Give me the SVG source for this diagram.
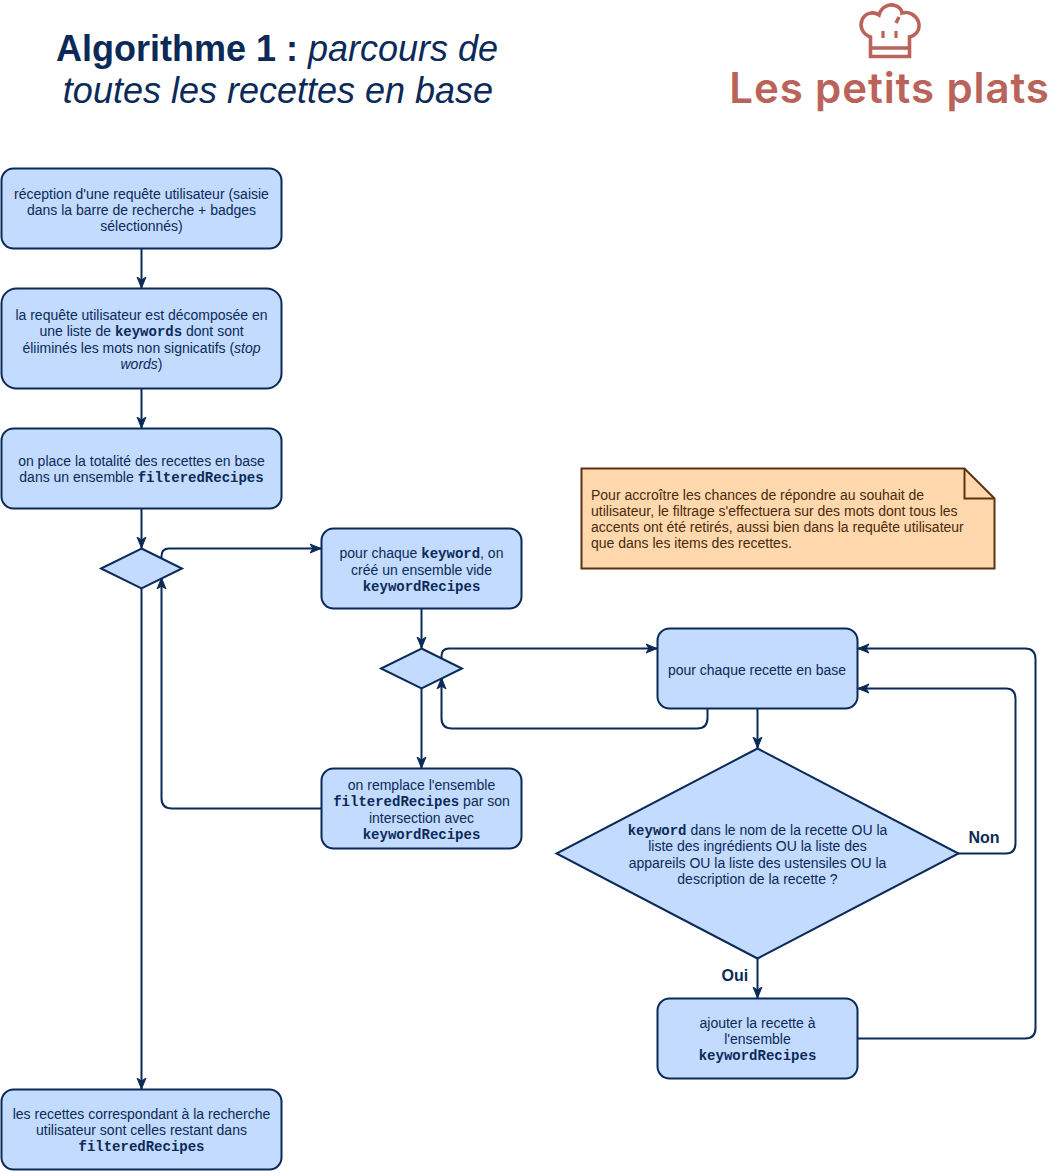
<svg xmlns="http://www.w3.org/2000/svg" width="1052" height="1171" viewBox="0 0 1052 1171">
<style>
.n{fill:#c2dbff;stroke:#0b2a58;stroke-width:2}
.t{font-family:"Liberation Sans",Arial,sans-serif;font-size:14px;fill:#0b2a58;text-anchor:middle;transform:translateY(.6px)}
.m{font-family:"Liberation Mono","Courier New",monospace;font-weight:bold}
.c{fill:none;stroke:#0b2a58;stroke-width:2}
.l{font-family:"Liberation Sans",Arial,sans-serif;font-size:16px;font-weight:bold;fill:#0b2a58}
.h{font-family:"Liberation Sans",Arial,sans-serif;font-size:36px;fill:#0b2a58;text-anchor:middle}
</style>
<defs>
<marker id="a" markerUnits="userSpaceOnUse" markerWidth="12" markerHeight="12" refX="11" refY="6" orient="auto"><path d="M0 1.500 L11 6 L0 10.500 L3 6 Z" fill="#0b2a58" stroke="#0b2a58" stroke-width="1"/></marker>
</defs>
<rect width="1052" height="1171" fill="#fff"/>
<g id="title"><text class="h" x="277" y="61"><tspan font-weight="bold">Algorithme 1 : </tspan><tspan font-style="italic">parcours de</tspan></text>
<text class="h" x="278" y="103" font-style="italic">toutes les recettes en base</text></g>
<g id="logo">
<path d="M870.500 56.500V37C862 34 859.500 26 862 20C865 13 873 11 879 15C881 7 889 3.500 895 5.500C899 6.500 902 10 902 13C909 11 916 15 918.500 22C920.500 29 917 35 909.500 37V56.500ZM870.500 48H909.500M899 17L896 23" fill="none" stroke="#b9635a" stroke-width="3.600"/>
<path d="M883 31V38M896 31V38" fill="none" stroke="#b9635a" stroke-width="3.200"/>
<text x="889.500" y="103" font-family="Inter,'Noto Sans',sans-serif" font-size="42" font-weight="600" letter-spacing="0.900" fill="#b9635a" text-anchor="middle">Les petits plats</text>
</g>
<g id="connectors">
<path class="c" d="M141.500 248V288" marker-end="url(#a)"/>
<path class="c" d="M141.500 388V428" marker-end="url(#a)"/>
<path class="c" d="M141.500 508V548" marker-end="url(#a)"/>
<path class="c" d="M141.500 588V1089" marker-end="url(#a)"/>
<path class="c" d="M161.500 558V556Q161.500 548.500 169 548.500H321" marker-end="url(#a)"/>
<path class="c" d="M321 808.500H172Q161.500 808.500 161.500 798V578" marker-end="url(#a)"/>
<path class="c" d="M421.500 608V648" marker-end="url(#a)"/>
<path class="c" d="M421.500 688V768" marker-end="url(#a)"/>
<path class="c" d="M441.500 658V656Q441.500 648.500 449 648.500H657" marker-end="url(#a)"/>
<path class="c" d="M707.500 708V718Q707.500 728.500 697 728.500H452Q441.500 728.500 441.500 718V678" marker-end="url(#a)"/>
<path class="c" d="M757.500 708V748" marker-end="url(#a)"/>
<path class="c" d="M757.500 958V998" marker-end="url(#a)"/>
<path class="c" d="M958 853.500H1006Q1015.500 853.500 1015.500 843V699Q1015.500 688.500 1006 688.500H858" marker-end="url(#a)"/>
<path class="c" d="M858 1038.500H1025Q1035.500 1038.500 1035.500 1028V659Q1035.500 648.500 1025 648.500H858" marker-end="url(#a)"/>
<text class="l" x="968.500" y="843">Non</text>
<text class="l" x="721.500" y="981">Oui</text>
</g>
<g id="n1"><rect class="n" x="1.500" y="168.500" width="280" height="80" rx="12"/><text class="t"><tspan x="141.500" y="198">réception d'une requête utilisateur (saisie</tspan><tspan x="141.500" y="214">dans la barre de recherche + badges</tspan><tspan x="141.500" y="230">sélectionnés)</tspan></text></g>
<g id="n2"><rect class="n" x="1.500" y="288.500" width="280" height="100" rx="15"/><text class="t"><tspan x="141.500" y="319">la requête utilisateur est décomposée en</tspan><tspan x="141.500" y="335">une liste de <tspan class="m">keywords</tspan> dont sont</tspan><tspan x="141.500" y="352">éliiminés les mots non signicatifs (<tspan font-style="italic">stop</tspan></tspan><tspan x="141.500" y="368"><tspan font-style="italic">words</tspan>)</tspan></text></g>
<g id="n3"><rect class="n" x="1.500" y="428.500" width="280" height="80" rx="12"/><text class="t"><tspan x="141.500" y="465">on place la totalité des recettes en base</tspan><tspan x="141.500" y="481">dans un ensemble <tspan class="m">filteredRecipes</tspan></tspan></text></g>
<g id="d1"><path class="n" d="M141.500 548.500L182 568.500L141.500 588.500L101 568.500Z"/></g>
<g id="n4"><rect class="n" x="321.500" y="528.500" width="200" height="80" rx="12"/><text class="t"><tspan x="421.500" y="557">pour chaque <tspan class="m">keyword</tspan>, on</tspan><tspan x="421.500" y="574">créé un ensemble vide</tspan><tspan x="421.500" y="590" class="m">keywordRecipes</tspan></text></g>
<g id="d2"><path class="n" d="M421.500 648.500L462 668.500L421.500 688.500L381 668.500Z"/></g>
<g id="n5"><rect class="n" x="321.500" y="768.500" width="200" height="80" rx="12"/><text class="t"><tspan x="421.500" y="789">on remplace l'ensemble</tspan><tspan x="421.500" y="805"><tspan class="m">filteredRecipes</tspan> par son</tspan><tspan x="421.500" y="822">intersection avec</tspan><tspan x="421.500" y="838" class="m">keywordRecipes</tspan></text></g>
<g id="n6"><rect class="n" x="657.500" y="628.500" width="200" height="80" rx="12"/><text class="t"><tspan x="757" y="674">pour chaque recette en base</tspan></text></g>
<g id="d3"><path class="n" d="M757.500 748.500L958.500 853.500L757.500 958.500L556.500 853.500Z"/><text class="t"><tspan x="757.500" y="834"><tspan class="m">keyword</tspan> dans le nom de la recette OU la</tspan><tspan x="757.500" y="850">liste des ingrédients OU la liste des</tspan><tspan x="757.500" y="867">appareils OU la liste des ustensiles OU la</tspan><tspan x="757.500" y="883">description de la recette ?</tspan></text></g>
<g id="n7"><rect class="n" x="657.500" y="998.500" width="200" height="80" rx="12"/><text class="t"><tspan x="757.500" y="1027">ajouter la recette à</tspan><tspan x="757.500" y="1043">l'ensemble</tspan><tspan x="757.500" y="1059" class="m">keywordRecipes</tspan></text></g>
<g id="n8"><rect class="n" x="1.500" y="1089.500" width="280" height="80" rx="12"/><text class="t"><tspan x="141.500" y="1118">les recettes correspondant à la recherche</tspan><tspan x="141.500" y="1134">utilisateur sont celles restant dans</tspan><tspan x="141.500" y="1150" class="m">filteredRecipes</tspan></text></g>
<g id="note"><path d="M581.500 468.500H964.500L994.500 498.500V568.500H581.500Z" fill="#ffd8ad" stroke="#5c3310" stroke-width="2"/><path d="M964.500 468.500V498.500H994.500" fill="none" stroke="#5c3310" stroke-width="2"/><text font-family="Liberation Sans,Arial,sans-serif" font-size="14" fill="#4a2a0c"><tspan x="591" y="500">Pour accroître les chances de répondre au souhait de</tspan><tspan x="591" y="516">utilisateur, le filtrage s'effectuera sur des mots dont tous les</tspan><tspan x="591" y="532">accents ont été retirés, aussi bien dans la requête utilisateur</tspan><tspan x="591" y="548">que dans les items des recettes.</tspan></text></g>
</svg>
